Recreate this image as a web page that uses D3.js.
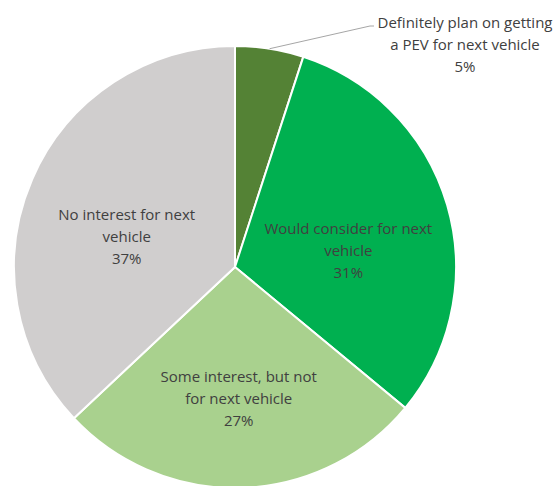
<!DOCTYPE html>
<html>
<head>
<meta charset="utf-8">
<script src="https://cdn.jsdelivr.net/npm/d3@7"></script>
<style>
  body { margin: 0; background: #fff; }
  .lbl { font-family: "Open Sans", Lato, sans-serif; font-size: 15px; fill: #404040; }
</style>
</head>
<body>
<svg id="chart" width="557" height="486"></svg>
<script>
// slices, clockwise from 12 o'clock
var categories = ["Definitely plan on getting a PEV for next vehicle",
                  "Would consider for next vehicle",
                  "Some interest, but not for next vehicle",
                  "No interest for next vehicle"];
var values = [5, 31, 27, 37];
var labelLines = [["Definitely plan on getting", "a PEV for next vehicle", "5%"],
                  ["Would consider for next", "vehicle", "31%"],
                  ["Some interest, but not", "for next vehicle", "27%"],
                  ["No interest for next", "vehicle", "37%"]];
var colors = ["#548235", "#00B050", "#A9D18E", "#D0CECE"];

var svg = d3.select("#chart");
var cx = 235, cy = 267, radius = 221;
var lineH = 22;

var g = svg.append("g").attr("transform", "translate(" + cx + "," + cy + ")");

var pie = d3.pie().sort(null).value(function(d) { return d; });
var arcs = pie(values);

var arc = d3.arc().innerRadius(0).outerRadius(radius);
var labelArc = d3.arc().innerRadius(236).outerRadius(0);

g.selectAll("path.slice")
  .data(arcs)
  .enter().append("path")
  .attr("class", "slice")
  .attr("d", arc)
  .attr("fill", function(d, i) { return colors[i]; })
  .attr("stroke", "#fff")
  .attr("stroke-width", 2);

arcs.forEach(function(d, i) {
  var pos, t;
  if (i === 0) {
    // small slice: leader line from arc edge to outside label
    var a = (d.startAngle + d.endAngle) / 2;
    var p0 = [Math.sin(a) * radius, -Math.cos(a) * radius];
    var p1 = [135, -241];
    var p2 = [139, -241];
    g.append("polyline")
      .attr("points", [p0, p1, p2].map(function(p) { return p.join(","); }).join(" "))
      .attr("fill", "none")
      .attr("stroke", "#a6a6a6")
      .attr("stroke-width", 1);
    pos = [230, -222];
  } else {
    pos = labelArc.centroid(d);
    pos[1] += 17;
    if (i === 2) pos[1] -= 3;
  }
  t = g.append("text")
    .attr("class", "lbl")
    .attr("text-anchor", "middle")
    .attr("x", pos[0])
    .attr("y", pos[1] - lineH + 5);
  labelLines[i].forEach(function(s, k) {
    t.append("tspan")
      .attr("x", pos[0])
      .attr("dy", k ? lineH : 0)
      .text(s);
  });
});
</script>
</body>
</html>
